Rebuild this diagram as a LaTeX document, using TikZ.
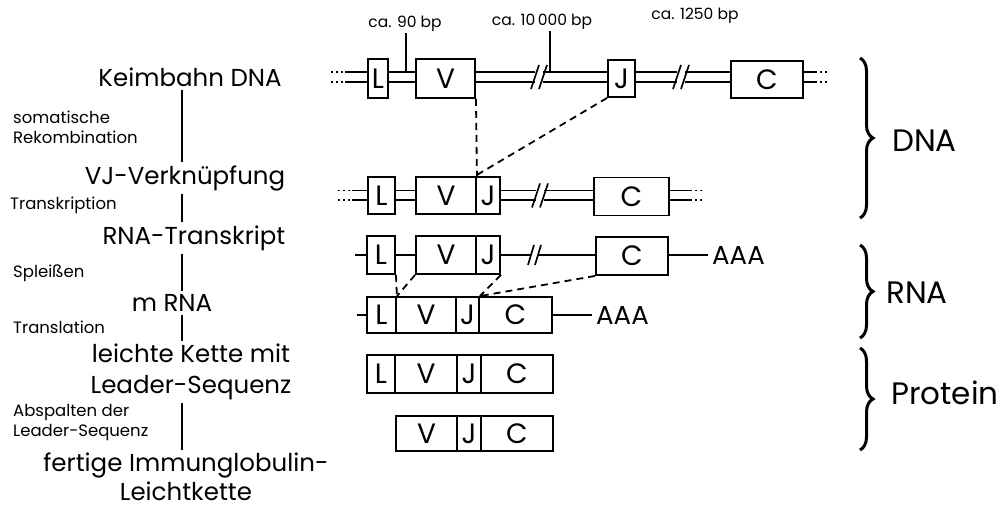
\documentclass[tikz,border=0pt]{standalone}
\usepackage{fontspec}
\setmainfont{Poppins}
\usetikzlibrary{decorations.pathreplacing,backgrounds}
\tikzset{
 gbox/.style={draw, line width=1.9pt, inner sep=0pt, font=\fontsize{28}{28}\selectfont},
 dl/.style={double, line width=1.6pt, double distance=8pt},
 dots/.style={dl, dash pattern=on 2pt off 3pt},
 sl/.style={line width=1.7pt},
 dsh/.style={line width=1.8pt, dash pattern=on 7pt off 5pt},
 vl/.style={line width=1.1pt},
 big/.style={font=\fontsize{24.5}{31}\selectfont, align=center, inner sep=3pt},
 small/.style={font=\fontsize{16.5}{20}\selectfont, align=left, anchor=west, inner sep=0pt},
 bp/.style={font=\fontsize{15.5}{16}\selectfont, inner sep=1pt},
 aaa/.style={font=\fontsize{26}{26}\selectfont, anchor=west, inner sep=4pt},
 brc/.style={decorate, decoration={brace, amplitude=13pt}, line width=3pt},
 side/.style={font=\fontsize{31}{31}\selectfont, anchor=west, inner sep=0pt},
}
\begin{document}
\begin{tikzpicture}[x=1pt,y=-1pt]
\useasboundingbox (0,0) rectangle (1002,508);
% ---- left column
\node[big] (t1) at (190,77) {Keimbahn DNA};
\node[small] (s1) at (13,127) {somatische\\Rekombination};
\node[big] (t2) at (185,178) {VJ-Verknüpfung};
\node[small] (s2) at (10,205) {Transkription};
\node[big] (t3) at (194,238) {RNA-Transkript};
\node[small] (s3) at (13,273) {Spleißen};
\node[big] (t4) at (172,303) {m RNA};
\node[small] (s4) at (13,327) {Translation};
\node[big] (t5) at (191,372) {leichte Kette mit\\Leader-Sequenz};
\node[small] (s5) at (13,423) {Abspalten der\\Leader-Sequenz};
\node[big, font=\fontsize{24.5}{29}\selectfont, inner sep=1pt] (t6) at (186,477) {fertige Immunglobulin-\\Leichtkette};
\coordinate (vx) at (182,0);
\draw[vl] (vx |- t1.south) -- (vx |- t2.north);
\draw[vl] (vx |- t2.south) -- (vx |- t3.north);
\draw[vl] (vx |- t3.south) -- (vx |- t4.north);
\draw[vl] (vx |- t4.south) -- (vx |- t5.north);
\draw[vl] (vx |- t5.south) -- ([yshift=2pt]vx |- t6.north);
% ---- row 1: germline DNA
\node[gbox, minimum width=20pt, minimum height=39pt] (aL) at (378,78.5) {L};
\node[gbox, minimum width=59pt, minimum height=39pt] (aV) at (445.5,78.5) {V};
\node[gbox, minimum width=27pt, minimum height=37pt] (aJ) at (621.5,78.5) {J};
\node[gbox, minimum width=72pt, minimum height=37pt] (aC) at (767,79.5) {C};
\coordinate (a0) at (331,77);
\coordinate (a1) at (345,77);
\coordinate (a2) at (535,77);
\coordinate (a3) at (543,77);
\coordinate (a4) at (677,77);
\coordinate (a5) at (685,77);
\coordinate (a6) at (815,77);
\coordinate (a7) at (829,77);
% ---- row 2: VJ joined
\node[gbox, minimum width=27pt, minimum height=37pt] (bL) at (381.5,195.5) {L};
\node[gbox, minimum width=60pt, minimum height=37pt] (bV) at (446,195.5) {V};
\node[gbox, minimum width=24pt, minimum height=37pt] (bJ) at (488,195.5) {J};
\node[gbox, minimum width=75pt, minimum height=38pt] (bC) at (631.5,196.5) {C};
\coordinate (b0) at (338,195.5);
\coordinate (b1) at (352,195.5);
\coordinate (b2) at (536,195.5);
\coordinate (b3) at (544,195.5);
\coordinate (b4) at (690,195.5);
\coordinate (b5) at (704,195.5);
% ---- row 3: RNA transcript
\node[gbox, minimum width=28pt, minimum height=38pt] (cL) at (381,255) {L};
\node[gbox, minimum width=60pt, minimum height=38pt] (cV) at (446,255) {V};
\node[gbox, minimum width=24pt, minimum height=38pt] (cJ) at (488,255) {J};
\node[gbox, minimum width=72pt, minimum height=38pt] (cC) at (632,256) {C};
\node[aaa] (cA) at (708,255) {AAA};
\coordinate (c0) at (355,255);
\coordinate (c2) at (531,255);
\coordinate (c3) at (538,255);
% ---- row 4: mRNA
\node[gbox, minimum width=29pt, minimum height=36pt] (dL) at (381.5,315) {L};
\node[gbox, minimum width=60pt, minimum height=36pt] (dV) at (426,315) {V};
\node[gbox, minimum width=23pt, minimum height=36pt] (dJ) at (467.5,315) {J};
\node[gbox, minimum width=73pt, minimum height=36pt] (dC) at (515.5,315) {C};
\node[aaa] (dA) at (592,315) {AAA};
\coordinate (d0) at (357,315);
% ---- row 5: light chain with leader
\node[gbox, minimum width=28pt, minimum height=38pt] (eL) at (381,374) {L};
\node[gbox, minimum width=62pt, minimum height=38pt] (eV) at (426,374) {V};
\node[gbox, minimum width=24pt, minimum height=38pt] (eJ) at (469,374) {J};
\node[gbox, minimum width=72pt, minimum height=38pt] (eC) at (517,374) {C};
% ---- row 6: mature light chain
\node[gbox, minimum width=61pt, minimum height=35pt] (fV) at (426.5,433.5) {V};
\node[gbox, minimum width=24pt, minimum height=35pt] (fJ) at (469,433.5) {J};
\node[gbox, minimum width=72pt, minimum height=35pt] (fC) at (517,433.5) {C};
% ---- strands
\begin{scope}[on background layer]
\draw[dots] (a0) -- (a1);
\draw[dl] (a1) -- (a1 -| aL.west);
\draw[dl] (aL.east |- a1) -- (aV.west |- a1);
\draw[dl] (aV.east |- a1) -- (a2);
\draw[dl] (a3) -- (aJ.west |- a3);
\draw[dl] (aJ.east |- a3) -- (a4);
\draw[dl] (a5) -- (aC.west |- a5);
\draw[dl] (aC.east |- a6) -- (a6);
\draw[dots] (a6) -- (a7);
\draw[dots] (b0) -- (b1);
\draw[dl] (b1) -- (bL);
\draw[dl] (bL) -- (bV);
\draw[dl] (bJ) -- (b2);
\draw[dl] (b3) -- (bC.west |- b3);
\draw[dl] (bC.east |- b4) -- (b4);
\draw[dots] (b4) -- (b5);
\end{scope}
\draw[sl] (c0) -- (cL);
\draw[sl] (cL) -- (cV);
\draw[sl] (cJ) -- (c2);
\draw[sl] (c3) -- (cC.west |- c3);
\draw[sl] (cC.east |- cA.west) -- (cA);
\draw[sl] (d0) -- (dL);
\draw[sl] (dC) -- (dA);
% break marks
\foreach \p in {a2,a3,a4,a5,b2,b3} \draw[sl] ([shift={(-4,12)}]\p) -- ([shift={(4,-12)}]\p);
\foreach \p in {c2,c3} \draw[sl] ([shift={(-3,10)}]\p) -- ([shift={(3,-10)}]\p);
% ---- size labels
\node[bp] (p1) at (405,24) {ca. 90 bp};
\node[bp] (p2) at (542,22) {ca. 10\,000 bp};
\node[bp] (p3) at (695,16) {ca. 1250 bp};
\coordinate (q1) at (406,71);
\coordinate (q2) at (550,71);
\draw[vl] (q1 |- p1.south) -- (q1);
\draw[vl] (q2 |- p2.south) -- (q2);
% ---- dashed recombination / splicing
\draw[dsh] (aV.south east) -- (bV.north east);
\draw[dsh] (aJ.south west) -- (bJ.north west);
\draw[dsh] (cL.south east) -- (dL.north east);
\draw[dsh] (cV.south west) -- (dL.north east);
\draw[dsh] (cJ.south east) -- (dJ.north east);
\draw[dsh] (cC.south west) -- (dJ.north east);
% ---- braces
\coordinate (g1) at (860,58);
\coordinate (g2) at (860,218);
\coordinate (g3) at (860,245);
\coordinate (g4) at (860,338);
\coordinate (g5) at (860,348);
\coordinate (g6) at (860,450);
\draw[brc] (g1) -- (g2);
\draw[brc] (g3) -- (g4);
\draw[brc] (g5) -- (g6);
\node[side] (dna) at (892,141) {DNA};
\node[side] (rna) at (886,293) {RNA};
\node[side] (prot) at (891,393) {Protein};
\end{tikzpicture}
\end{document}
